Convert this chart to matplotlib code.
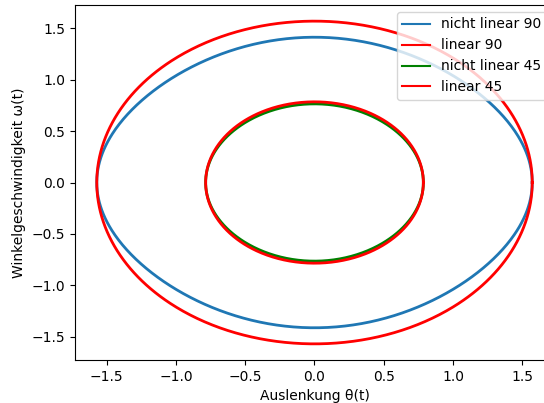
import numpy as np
import matplotlib.pyplot as plt

# Anfangsauslenkung in Grad und Bezeichnungen
start_deg = [90, 45]
labels_nl = ["nicht linear 90", "nicht linear 45"]
labels_lin = ["linear 90", "linear 45"]
colors_nl = ["tab:blue", "green"]
colors_lin = ["red", "red"]

s = np.linspace(0, 2 * np.pi, 800)

fig = plt.figure(figsize=(5.44, 4.03), dpi=100)
ax = fig.add_axes([75 / 544, 43 / 403, (554 - 75) / 544, (360 - 5) / 403])

for deg, lnl, llin, cnl, clin in zip(start_deg, labels_nl, labels_lin, colors_nl, colors_lin):
    th0 = np.radians(deg)
    theta = th0 * np.cos(s)
    # nichtlinear: Energieerhaltung
    om_nl = -np.sign(np.sin(s)) * np.sqrt(np.clip(2 * (np.cos(theta) - np.cos(th0)), 0, None))
    # linear: harmonischer Oszillator
    om_lin = -th0 * np.sin(s)
    ax.plot(theta, om_nl, color=cnl, label=lnl, lw=2)
    ax.plot(theta, om_lin, color=clin, label=llin, lw=2)

ax.set_xlabel("Auslenkung θ(t)")
ax.set_ylabel("Winkelgeschwindigkeit ω(t)")
leg = ax.legend(loc="upper right")
for line in leg.get_lines():
    line.set_linewidth(1.5)

fig.savefig("out.png", dpi=100)
